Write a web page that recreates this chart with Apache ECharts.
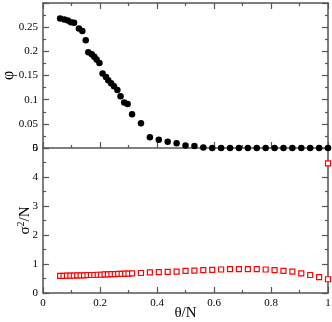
<!DOCTYPE html>
<html>
<head>
<meta charset="utf-8">
<script src="https://cdn.jsdelivr.net/npm/echarts@6/dist/echarts.min.js"></script>
<style>
html,body{margin:0;padding:0;background:#fff;}
#c{width:332px;height:322px;}
</style>
</head>
<body>
<div id="c"></div>
<script>
// theta/N values for phi (fine + coarse region)
const thetaPhi = [0.060, 0.075, 0.087, 0.098, 0.109, 0.126, 0.138, 0.150, 0.159, 0.171, 0.180, 0.188, 0.198, 0.209, 0.221, 0.229, 0.239, 0.249, 0.261, 0.272, 0.285, 0.297, 0.3125,
  0.34375, 0.375, 0.40625, 0.4375, 0.46875, 0.5, 0.53125, 0.5625, 0.59375, 0.625, 0.65625, 0.6875, 0.71875, 0.75, 0.78125, 0.8125, 0.84375, 0.875, 0.90625, 0.9375, 0.96875, 1.0];
const phi = [0.268, 0.266, 0.264, 0.260, 0.259, 0.247, 0.242, 0.223, 0.198, 0.194, 0.189, 0.183, 0.176, 0.154, 0.147, 0.140, 0.134, 0.128, 0.120, 0.107, 0.094, 0.091, 0.070,
  0.051, 0.022, 0.017, 0.013, 0.010, 0.005, 0.004, 0.001, 0, 0, 0, 0, 0, 0, 0, 0, 0, 0, 0, 0, 0, 0];

// theta/N values for sigma^2/N
const thetaSigma = [0.060, 0.072, 0.084, 0.096, 0.108, 0.120, 0.132, 0.144, 0.156, 0.168, 0.180, 0.192, 0.204, 0.216, 0.228, 0.240, 0.252, 0.264, 0.276, 0.288, 0.300, 0.3125,
  0.34375, 0.375, 0.40625, 0.4375, 0.46875, 0.5, 0.53125, 0.5625, 0.59375, 0.625, 0.65625, 0.6875, 0.71875, 0.75, 0.78125, 0.8125, 0.84375, 0.875, 0.90625, 0.9375, 0.96875, 1.0, 1.0];
const sigma = [0.59, 0.59, 0.60, 0.60, 0.60, 0.61, 0.61, 0.61, 0.62, 0.62, 0.62, 0.63, 0.63, 0.64, 0.64, 0.65, 0.65, 0.66, 0.66, 0.67, 0.67, 0.68,
  0.69, 0.71, 0.72, 0.73, 0.74, 0.76, 0.77, 0.79, 0.80, 0.81, 0.82, 0.82, 0.82, 0.82, 0.81, 0.79, 0.76, 0.74, 0.68, 0.62, 0.545, 0.475, 4.47];

const xTickLabels = ['0', '0.2', '0.4', '0.6', '0.8', '1'];
const phiTickLabels = ['0', '0.05', '0.1', '0.15', '0.2', '0.25', ''];
const sigmaTickLabels = ['0', '1', '2', '3', '4', '5'];

const AX = '#555';
const FONT = 'Liberation Serif';

function pairs(xs, ys) { return xs.map((x, i) => [x, ys[i]]); }

function xAx(grid, pos, labels, extra) {
  return Object.assign({
    type: 'value', gridIndex: grid, position: pos, min: 0, max: 1, interval: 0.2,
    axisLine: { show: true, onZero: false, lineStyle: { color: AX, width: 1.5 } },
    axisTick: { show: true, inside: true, length: 6, lineStyle: { color: AX, width: 1.2 } },
    minorTick: { show: true, splitNumber: 2, length: 3, lineStyle: { color: AX, width: 1.2 } },
    splitLine: { show: false },
    axisLabel: labels ? {
      show: true, color: '#000', fontFamily: FONT, fontSize: 11, margin: 5,
      formatter: v => xTickLabels[Math.round(v / 0.2)]
    } : { show: false }
  }, extra || {});
}

function yAx(grid, pos, max, interval, labelArr, extra) {
  return Object.assign({
    type: 'value', gridIndex: grid, position: pos, min: 0, max: max, interval: interval,
    axisLine: { show: true, onZero: false, lineStyle: { color: AX, width: 1.5 } },
    axisTick: { show: true, inside: true, length: 6, lineStyle: { color: AX, width: 1.2 } },
    minorTick: { show: true, splitNumber: 2, length: 3, lineStyle: { color: AX, width: 1.2 } },
    splitLine: { show: false },
    axisLabel: labelArr ? {
      show: true, color: '#000', fontFamily: FONT, fontSize: 11, margin: 5,
      formatter: v => labelArr[Math.round(v / interval)]
    } : { show: false }
  }, extra || {});
}

const chart = echarts.init(document.getElementById('c'), null, { renderer: 'canvas' });
chart.setOption({
  backgroundColor: '#fff',
  animation: false,
  grid: [
    { left: 43, top: 3, width: 285, height: 145, containLabel: false, outerBoundsMode: 'none' },
    { left: 43, top: 148, width: 285, height: 145, containLabel: false, outerBoundsMode: 'none' }
  ],
  xAxis: [
    xAx(0, 'bottom', false),
    xAx(0, 'top', false),
    xAx(1, 'bottom', true, {
      name: 'θ/N', nameLocation: 'middle', nameGap: 13, nameMoveOverlap: false,
      nameTextStyle: { color: '#000', fontFamily: FONT, fontSize: 15, verticalAlign: 'top' }
    })
  ],
  yAxis: [
    yAx(0, 'left', 0.3, 0.05, phiTickLabels, {
      name: 'φ', nameLocation: 'middle', nameGap: 26, nameMoveOverlap: false,
      nameTextStyle: { color: '#000', fontFamily: FONT, fontSize: 16 }
    }),
    yAx(0, 'right', 0.3, 0.05, null),
    yAx(1, 'left', 5, 1, sigmaTickLabels, {
      name: 'σ{sup|2}/N', nameLocation: 'middle', nameGap: 9, nameMoveOverlap: false,
      nameTextStyle: { color: '#000', fontFamily: FONT, fontSize: 15,
        rich: { sup: { fontFamily: FONT, fontSize: 10, verticalAlign: 'bottom', padding: [0, 0, 8, 0] } } }
    }),
    yAx(1, 'right', 5, 1, null)
  ],
  series: [
    {
      type: 'scatter', xAxisIndex: 0, yAxisIndex: 0, clip: false,
      data: pairs(thetaPhi, phi),
      symbol: 'circle', symbolSize: 6.5,
      itemStyle: { color: '#000', opacity: 1 }
    },
    {
      type: 'scatter', xAxisIndex: 2, yAxisIndex: 2, clip: false,
      data: pairs(thetaSigma, sigma),
      symbol: 'rect', symbolSize: 5,
      itemStyle: { color: '#fff', borderColor: '#ff0000', borderWidth: 1.2, opacity: 1 }
    }
  ]
});
</script>
</body>
</html>
